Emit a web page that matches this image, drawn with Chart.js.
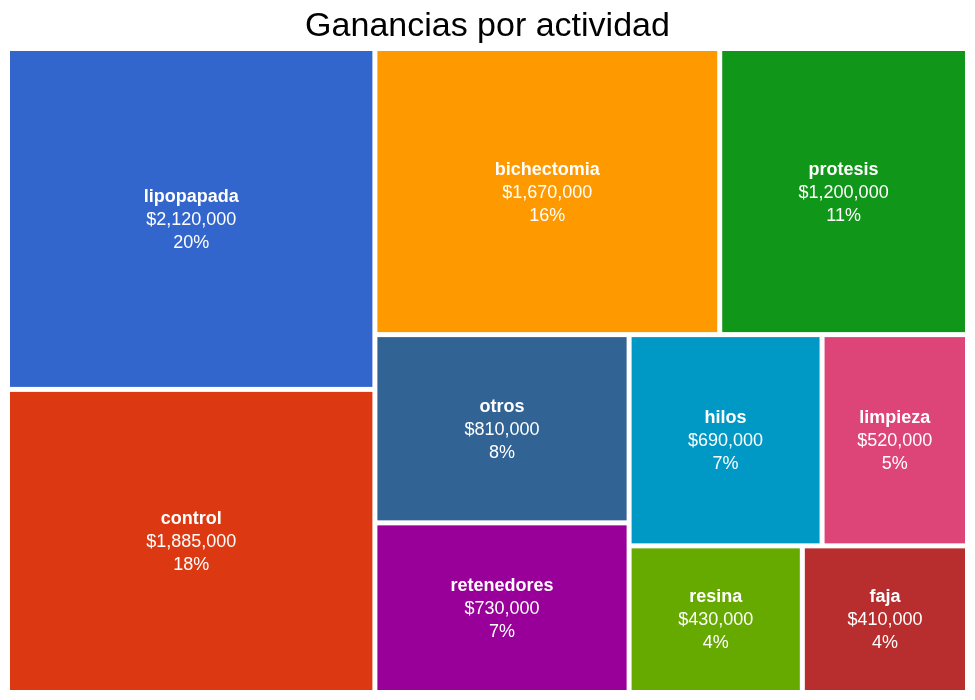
<!DOCTYPE html>
<html>
<head>
<meta charset="utf-8">
<script src="https://cdn.jsdelivr.net/npm/chart.js@4.4.1/dist/chart.umd.min.js"></script>
<style>
  html, body { margin: 0; padding: 0; background: #fff; }
  #wrap { width: 975px; height: 700px; }
</style>
</head>
<body>
<div id="wrap"><canvas id="treemap"></canvas></div>
<script>
const categories = ["lipopapada", "control", "bichectomia", "protesis", "retenedores", "hilos", "limpieza", "resina", "faja", "otros"];
const earnings = [2120000, 1885000, 1670000, 1200000, 730000, 690000, 520000, 430000, 410000, 810000];
const colors = ["#3366CC", "#DC3912", "#FF9900", "#109618", "#990099", "#0099C6", "#DD4477", "#66AA00", "#B82E2E", "#316395"];

const total = earnings.reduce((a, b) => a + b, 0);
const money = (v) => "$" + v.toLocaleString("en-US");
const pct = (v) => Math.round((v / total) * 100) + "%";

// d3-style squarify (ratio 1) on a w x h box, returns fractions of the box
function squarify(items, w, h) {
  const out = [];
  let x0 = 0, y0 = 0, x1 = w, y1 = h;
  let value = items.reduce((a, b) => a + b.value, 0);
  let i0 = 0, i1 = 0;
  const n = items.length;
  while (i0 < n) {
    const dx = x1 - x0, dy = y1 - y0;
    let sum = items[i1++].value;
    let minV = sum, maxV = sum;
    const alpha = Math.max(dy / dx, dx / dy) / value;
    let beta = sum * sum * alpha;
    let minRatio = Math.max(maxV / beta, beta / minV);
    for (; i1 < n; ++i1) {
      const v = items[i1].value;
      sum += v;
      if (v < minV) minV = v;
      if (v > maxV) maxV = v;
      beta = sum * sum * alpha;
      const r = Math.max(maxV / beta, beta / minV);
      if (r > minRatio) { sum -= v; break; }
      minRatio = r;
    }
    const row = items.slice(i0, i1);
    if (dx < dy) {
      const ny = y0 + dy * sum / value;
      let x = x0;
      row.forEach((it) => {
        const x2 = x + (x1 - x0) * it.value / sum;
        out.push({ ...it, x0: x, x1: x2, y0, y1: ny });
        x = x2;
      });
      y0 = ny;
    } else {
      const nx = x0 + dx * sum / value;
      let y = y0;
      row.forEach((it) => {
        const y2 = y + (y1 - y0) * it.value / sum;
        out.push({ ...it, x0, x1: nx, y0: y, y1: y2 });
        y = y2;
      });
      x0 = nx;
    }
    value -= sum;
    i0 = i1;
  }
  return out.map((c) => ({ ...c, x0: c.x0 / w, x1: c.x1 / w, y0: c.y0 / h, y1: c.y1 / h }));
}

const treemapPlugin = {
  id: "treemap",
  afterDatasetsDraw(chart) {
    const { ctx, chartArea, scales } = chart;
    const items = categories
      .map((label, i) => ({ label, value: earnings[i], color: colors[i] }))
      .sort((a, b) => b.value - a.value);
    const cells = squarify(items, chartArea.width, chartArea.height);
    const gap = 2.5;
    ctx.save();
    cells.forEach((c) => {
      const left = scales.x.getPixelForValue(c.x0) + gap;
      const right = scales.x.getPixelForValue(c.x1) - gap;
      const top = scales.y.getPixelForValue(c.y0) + gap;
      const bottom = scales.y.getPixelForValue(c.y1) - gap;
      ctx.fillStyle = c.color;
      ctx.fillRect(left, top, right - left, bottom - top);

      const cx = (left + right) / 2;
      const cy = (top + bottom) / 2 + 1;
      ctx.fillStyle = "#ffffff";
      ctx.textAlign = "center";
      ctx.textBaseline = "middle";
      ctx.font = "bold 18px 'Liberation Sans', Arial, sans-serif";
      ctx.fillText(c.label, cx, cy - 23);
      ctx.font = "18px 'Liberation Sans', Arial, sans-serif";
      ctx.fillText(money(c.value), cx, cy);
      ctx.fillText(pct(c.value), cx, cy + 23);
    });
    ctx.restore();
  },
};

new Chart(document.getElementById("treemap"), {
  type: "scatter",
  data: { datasets: [{ data: [], pointRadius: 0 }] },
  options: {
    responsive: true,
    maintainAspectRatio: false,
    animation: false,
    layout: { padding: { left: 7.5, right: 7.5, bottom: 7.5, top: 0 } },
    plugins: {
      legend: { display: false },
      tooltip: { enabled: false },
      title: {
        display: true,
        text: "Ganancias por actividad",
        color: "#000",
        font: { size: 34, weight: "normal", lineHeight: 1.1, family: "'Liberation Sans', Arial, sans-serif" },
        padding: { top: 8, bottom: 3.1 },
      },
    },
    scales: {
      x: { type: "linear", min: 0, max: 1, display: false },
      y: { type: "linear", min: 0, max: 1, reverse: true, display: false },
    },
  },
  plugins: [treemapPlugin],
});
</script>
</body>
</html>
